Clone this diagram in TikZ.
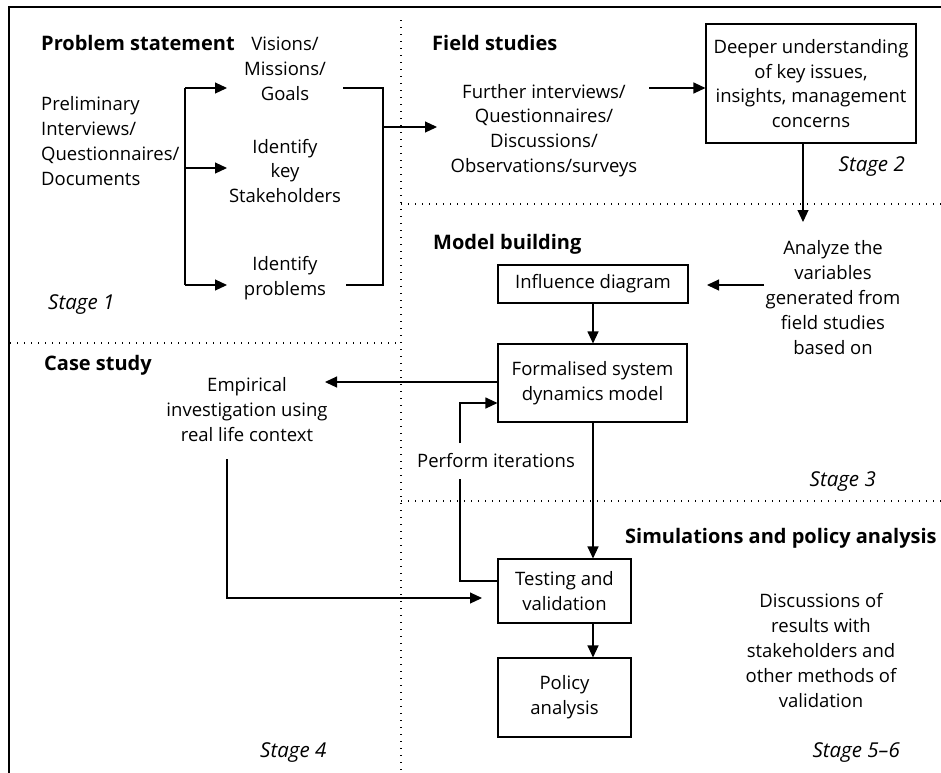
\documentclass[tikz,border=0pt]{standalone}
\usepackage{fontspec}
\setmainfont{Open Sans}
\usetikzlibrary{arrows.meta}
\newcommand{\fsz}{\fontsize{18.5}{24.8}\selectfont}
\newcommand{\fszb}{\fontsize{20}{24.8}\selectfont}
\newcommand{\fszi}{\fontsize{20.5}{24.8}\selectfont}
\begin{document}
\begin{tikzpicture}[x=1pt,y=-1pt,
  txt/.style={font=\fsz, align=center, inner sep=0pt},
  hdr/.style={font=\fszb\bfseries, inner sep=0pt, anchor=west},
  stg/.style={font=\fszi\itshape, inner sep=0pt},
  boxn/.style={draw, line width=1.1pt, font=\fsz, align=center, inner sep=0pt},
  ln/.style={line width=1.1pt},
  arr/.style={line width=1.1pt, -{Triangle[length=12pt,width=11pt]}},
  dots/.style={line width=1.3pt, dash pattern=on 1.3pt off 5.7pt},
]
\clip (0,0) rectangle (941,772);
% frame
\draw[line width=1.5pt] (9,790) -- (9,7) -- (960,7);
% dotted separators
\draw[dots] (401,20) -- (401,790);
\draw[dots] (10,343) -- (401,343);
\draw[dots] (401,204) -- (950,204);
\draw[dots] (401,501) -- (950,501);

% Stage 1
\node[hdr] (ps) at (41,43) {Problem statement};
\node[txt] (vmg) at (285,69) {Visions/\\Missions/\\Goals};
\node[txt, align=left, anchor=west] (prel) at (41,141) {Preliminary\\Interviews/\\Questionnaires/\\Documents};
\node[txt] (iks) at (285,171) {Identify\\key\\Stakeholders};
\node[txt] (ip) at (285,278.5) {Identify\\problems};
\node[stg, anchor=west] (s1) at (48,305) {Stage 1};

% Stage 2
\node[hdr] (fs) at (432,43) {Field studies};
\node[txt] (fur) at (544,130.5) {Further interviews/\\Questionnaires/\\Discussions/\\Observations/surveys};
\node[boxn, minimum width=210pt, minimum height=119pt] (deep) at (811,83.5) {Deeper understanding\\of key issues,\\insights, management\\concerns};
\node[stg, anchor=east] (s2) at (905,167) {Stage 2};

% Stage 3
\node[hdr] (mb) at (433,244) {Model building};
\node[txt] (ana) at (833,297.5) {Analyze the\\variables\\generated from\\field studies\\based on};
\node[boxn, minimum width=190pt, minimum height=38pt] (infl) at (593,284) {Influence diagram};
\node[boxn, minimum width=189pt, minimum height=78pt] (form) at (592.5,383) {Formalised system\\dynamics model};
\node[txt] (perf) at (496,461) {Perform iterations};
\node[stg, anchor=east] (s3) at (876,482) {Stage 3};

% Stage 4
\node[hdr] (cs) at (44,365) {Case study};
\node[txt] (emp) at (247,409.5) {Empirical\\investigation using\\real life context};
\node[stg, anchor=west] (s4) at (260,753) {Stage 4};

% Stage 5-6
\node[hdr] (sim) at (625,538) {Simulations and policy analysis};
\node[boxn, minimum width=133pt, minimum height=64pt] (test) at (564.5,591) {Testing and\\validation};
\node[boxn, minimum width=133pt, minimum height=79pt] (pol) at (564.5,697.5) {Policy\\analysis};
\node[txt] (disc) at (821,650.5) {Discussions of\\results with\\stakeholders and\\other methods of\\validation};
\node[stg, anchor=east] (s56) at (900,753) {Stage 5--6};

% coordinates for connector ends
\coordinate (b1) at (185,88);
\coordinate (b2) at (185,168);
\coordinate (b3) at (185,285);
\coordinate (t1) at (227,88);
\coordinate (t2) at (227,168);
\coordinate (t3) at (227,285);
\coordinate (r1) at (343,88);
\coordinate (r2) at (383,88);
\coordinate (r3) at (383,285);
\coordinate (r4) at (346,285);
\coordinate (rm) at (383,127);
\coordinate (rt) at (437,127);
\coordinate (f1) at (649,88);
\coordinate (d1) at (803,143);
\coordinate (d2) at (803,222);
\coordinate (a1) at (764,285);
\coordinate (a2) at (707,285);
\coordinate (e1) at (325,382);
\coordinate (c1) at (227,459);
\coordinate (c2) at (227,598);
\coordinate (c3) at (482,598);
\coordinate (p1) at (460,581);
\coordinate (p2) at (460,479);
\coordinate (p3) at (460,443);
\coordinate (p4) at (460,403);
\coordinate (mx) at (593,0);

% connectors stage 1
\draw[ln] (b1) -- (b3);
\draw[arr] (b1) -- (t1);
\draw[arr] (b2) -- (t2);
\draw[arr] (b3) -- (t3);
\draw[ln] (r1) -- (r2) -- (r3) -- (r4);
\draw[arr] (rm) -- (rt);
% stage 2
\draw[arr] (f1) -- (f1 -| deep.west);
\draw[arr] (d1) -- (d2);
% stage 3
\draw[arr] (a1) -- (a2);
\draw[arr] (infl.south -| mx) -- (form.north -| mx);
\draw[arr] (form.west |- e1) -- (e1);
\draw[ln] (test.west |- p1) -- (p1) -- (p2);
\draw[arr] (p3) -- (p4) -- (form.west |- p4);
\draw[arr] (form.south -| mx) -- (test.north -| mx);
% stage 4 / 5-6
\draw[arr] (c1) -- (c2) -- (c3);
\draw[arr] (test.south -| mx) -- (pol.north -| mx);
\end{tikzpicture}
\end{document}
